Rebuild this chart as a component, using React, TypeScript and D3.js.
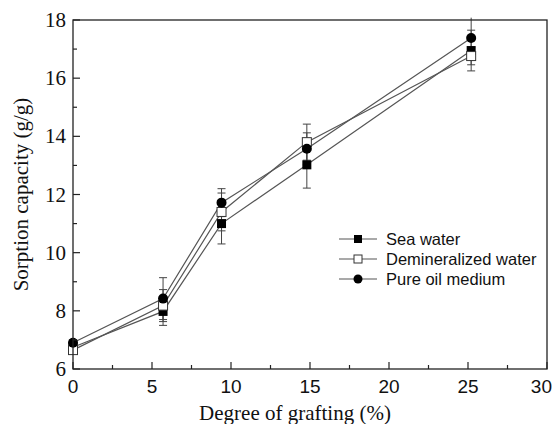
import React from 'react'
import * as d3 from 'd3'

// grafting degree (%) for every sample
const grafting = [0, 5.7, 9.4, 14.8, 25.2]

// sorption capacity (g/g) and error (+/-) per medium
const seaWater = [6.75, 7.98, 11.0, 13.02, 16.95]
const seaErr = [0.1, 0.48, 0.7, 0.8, 0.7]
const demWater = [6.65, 8.18, 11.4, 13.8, 16.76]
const demErr = [0.1, 0.55, 0.65, 0.62, 0.3]
const pureOil = [6.9, 8.42, 11.72, 13.57, 17.38]
const oilErr = [0.1, 0.72, 0.48, 0.55, 0.7]

const seriesNames = ['Sea water', 'Demineralized water', 'Pure oil medium']
const xTicks = [0, 5, 10, 15, 20, 25, 30]
const yTicks = [6, 8, 10, 12, 14, 16, 18]

const W = 553, H = 424
const margin = { top: 20, right: 6, bottom: 55, left: 73 }
const serif = 'Liberation Serif, Times New Roman, serif'
const sans = 'Liberation Sans, Arial, sans-serif'

export default function App() {
  const x = d3.scaleLinear().domain([0, 30]).range([margin.left, W - margin.right])
  const y = d3.scaleLinear().domain([6, 18]).range([H - margin.bottom, margin.top])
  const line = d3.line<number>().x((d, i) => x(grafting[i])).y(d => y(d))

  const series = [
    { name: seriesNames[0], vals: seaWater, err: seaErr, kind: 'sq' },
    { name: seriesNames[1], vals: demWater, err: demErr, kind: 'open' },
    { name: seriesNames[2], vals: pureOil, err: oilErr, kind: 'circ' },
  ]

  const marker = (kind: string, cx: number, cy: number, key: any) => {
    if (kind === 'circ') return <circle key={key} cx={cx} cy={cy} r={5} fill="#000" />
    if (kind === 'sq') return <rect key={key} x={cx - 4.5} y={cy - 4.5} width={9} height={9} fill="#000" />
    return <rect key={key} x={cx - 4.5} y={cy - 4.5} width={9} height={9} fill="#fff" stroke="#333" strokeWidth={1} />
  }

  const x0 = margin.left, x1 = W - margin.right
  const y0 = H - margin.bottom, y1 = margin.top
  const xMinor = d3.range(2.5, 30, 5)
  const yMinor = d3.range(7, 18, 2)

  return (
    <svg width={W} height={H} style={{ position: 'absolute', left: 0, top: 0, background: '#fff' }}>
      {/* error bars */}
      {series.map(s => s.vals.map((v, i) => {
        const cx = x(grafting[i])
        const top = y(v + s.err[i]), bot = y(v - s.err[i])
        return (
          <g key={s.name + i} stroke="#444" strokeWidth={1}>
            <line x1={cx} x2={cx} y1={Math.max(top, y1 - 6)} y2={bot} />
            {top >= y1 && <line x1={cx - 4} x2={cx + 4} y1={top} y2={top} />}
            <line x1={cx - 4} x2={cx + 4} y1={bot} y2={bot} />
          </g>
        )
      }))}
      {/* lines */}
      {series.map(s => (
        <path key={s.name} d={line(s.vals) || ''} fill="none" stroke="#555" strokeWidth={1.2} />
      ))}
      {/* markers */}
      {series.map(s => s.vals.map((v, i) => marker(s.kind, x(grafting[i]), y(v), s.name + 'm' + i)))}

      {/* frame */}
      <rect x={x0} y={y1} width={x1 - x0} height={y0 - y1} fill="none" stroke="#222" strokeWidth={1.3} />
      {/* x ticks */}
      {xTicks.map(t => (
        <line key={'xt' + t} x1={x(t)} x2={x(t)} y1={y0} y2={y0 - 7} stroke="#222" strokeWidth={1.2} />
      ))}
      {xMinor.map(t => (
        <line key={'xm' + t} x1={x(t)} x2={x(t)} y1={y0} y2={y0 - 4} stroke="#222" strokeWidth={1.2} />
      ))}
      {xTicks.map((t, i) => {
        const last = i === xTicks.length - 1
        return (
          <text key={'xl' + t} x={last ? W - 1 : x(t)} y={y0 + 24} textAnchor={last ? 'end' : 'middle'}
            fontFamily={sans} fontSize={19} fill="#111">{t}</text>
        )
      })}
      {/* y ticks */}
      {yTicks.map(t => (
        <line key={'yt' + t} x1={x0} x2={x0 + 7} y1={y(t)} y2={y(t)} stroke="#222" strokeWidth={1.2} />
      ))}
      {yMinor.map(t => (
        <line key={'ym' + t} x1={x0} x2={x0 + 4} y1={y(t)} y2={y(t)} stroke="#222" strokeWidth={1.2} />
      ))}
      {yTicks.map(t => (
        <text key={'yl' + t} x={x0 - 7} y={y(t) + 7} textAnchor="end" fontFamily={serif} fontSize={21} fill="#111">{t}</text>
      ))}
      {/* axis titles */}
      <text x={295} y={420} textAnchor="middle" fontFamily={serif} fontSize={21} fill="#111">Degree of grafting (%)</text>
      <text transform={`translate(28,${(y0 + y1) / 2}) rotate(-90)`} textAnchor="middle" fontFamily={serif} fontSize={21} fill="#111">Sorption capacity (g/g)</text>

      {/* legend */}
      {series.map((s, i) => {
        const ly = 239 + i * 20
        return (
          <g key={'lg' + i}>
            <line x1={339} x2={377} y1={ly} y2={ly} stroke="#555" strokeWidth={1.2} />
            {s.kind === 'circ'
              ? <circle cx={358} cy={ly} r={4.5} fill="#000" />
              : s.kind === 'sq'
                ? <rect x={354} y={ly - 4} width={8} height={8} fill="#000" />
                : <rect x={354} y={ly - 4} width={8} height={8} fill="#fff" stroke="#333" />}
            <text x={386} y={ly + 6} fontFamily={sans} fontSize={16.5} fill="#111">{s.name}</text>
          </g>
        )
      })}
    </svg>
  )
}
